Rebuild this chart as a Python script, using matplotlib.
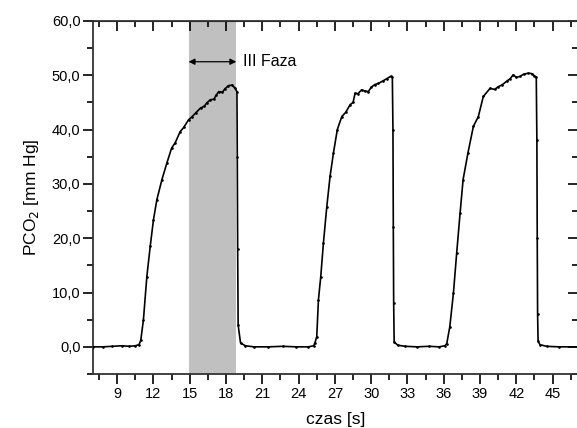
import numpy as np
import matplotlib.pyplot as plt
from matplotlib.ticker import MultipleLocator, FuncFormatter

plt.rcParams['font.family'] = ['Liberation Sans', 'DejaVu Sans']

# CO2 trace (time [s], PCO2 [mm Hg])
czas = [7.0, 7.8, 8.6, 9.4, 10.0, 10.5, 10.8, 10.95, 11.17, 11.45, 11.73, 12.0, 12.28,
        12.7, 13.1, 13.5, 13.8, 14.2, 14.5, 14.9, 15.2, 15.5, 15.9, 16.2, 16.4, 16.7,
        17.0, 17.2, 17.4, 17.7, 17.9, 18.2, 18.5, 18.75, 18.9, 18.93, 18.96, 19.0, 19.2,
        19.6, 20.3, 21.5, 22.7, 23.8, 24.8, 25.25, 25.36, 25.5, 25.64, 25.83, 26.05,
        26.33, 26.6, 26.88, 27.2, 27.57, 27.9, 28.26, 28.5, 28.67, 28.9, 29.2, 29.5,
        29.77, 30.0, 30.3, 30.6, 31.0, 31.3, 31.6, 31.75, 31.8, 31.83, 31.86, 31.9,
        32.2, 32.8, 33.8, 34.8, 35.6, 36.1, 36.25, 36.5, 36.8, 37.07, 37.35, 37.6, 38.0,
        38.45, 38.86, 39.27, 39.83, 40.2, 40.5, 40.8, 41.2, 41.5, 41.75, 42.0, 42.3,
        42.6, 43.0, 43.3, 43.5, 43.65, 43.7, 43.73, 43.76, 43.8, 43.96, 44.5, 45.5, 47.1]
pco2 = [0.0, 0.0, 0.1, 0.2, 0.1, 0.2, 0.4, 1.2, 5.0, 12.9, 18.5, 23.4, 27.1,
        30.8, 33.8, 36.6, 37.6, 39.6, 40.4, 41.8, 42.4, 43.1, 44.0, 44.3, 44.9, 45.5,
        45.6, 46.4, 47.0, 46.9, 47.5, 48.1, 48.2, 47.6, 47.0, 35.0, 18.0, 4.0, 0.7,
        0.2, 0.0, 0.0, 0.1, 0.0, 0.0, 0.2, 0.8, 1.9, 8.7, 12.9, 19.1,
        25.8, 31.4, 35.7, 40.0, 42.4, 43.2, 44.6, 45.0, 46.7, 46.6, 47.3, 47.1,
        47.0, 47.8, 48.3, 48.5, 49.0, 49.4, 49.8, 49.6, 40.0, 22.0, 8.0, 0.9,
        0.3, 0.1, 0.0, 0.1, 0.0, 0.2, 0.6, 3.7, 9.9, 17.3, 24.6, 30.8, 35.7,
        40.6, 42.4, 46.1, 47.6, 47.4, 47.9, 48.2, 48.9, 49.4, 50.1, 49.6, 49.8,
        50.2, 50.4, 50.3, 49.9, 49.6, 38.0, 20.0, 6.0, 1.0, 0.4, 0.1, 0.0, 0.0]

faza_start, faza_end = 14.9, 18.85
faza_y = 52.5

fig = plt.figure(figsize=(5.77, 4.28), dpi=100)
ax = fig.add_axes([93 / 577, 54 / 428, 485 / 577, 353 / 428])

ax.axvspan(faza_start, faza_end, color='#c0c0c0', lw=0, zorder=0)
ax.plot(czas, pco2, color='black', lw=1.2, marker='.', ms=1.8, zorder=3)

ax.annotate('', xy=(faza_start, faza_y), xytext=(faza_end, faza_y),
            arrowprops=dict(arrowstyle='<|-|>', color='black', lw=0.9,
                            mutation_scale=9, shrinkA=0, shrinkB=0))
ax.text(19.4, faza_y, 'III Faza', fontsize=11.5, va='center', ha='left')

ax.set_xlim(7, 47.1)
ax.set_ylim(-5, 60)
ax.xaxis.set_major_locator(MultipleLocator(3))
ax.xaxis.set_minor_locator(MultipleLocator(1.5))
ax.yaxis.set_major_locator(MultipleLocator(10))
ax.yaxis.set_minor_locator(MultipleLocator(5))
ax.yaxis.set_major_formatter(FuncFormatter(lambda v, p: ('%.1f' % v).replace('.', ',')))
ax.xaxis.set_major_formatter(FuncFormatter(lambda v, p: '%d' % v))

ax.tick_params(which='major', direction='out', length=7, width=1.2, labelsize=10.5, pad=2)
ax.tick_params(which='minor', direction='out', length=4, width=1.2)
for sp in ax.spines.values():
    sp.set_linewidth(1.3)
    sp.set_color('#333333')

# mirrored ticks pointing inward on top and right
top = ax.secondary_xaxis('top')
top.xaxis.set_major_locator(MultipleLocator(3))
top.xaxis.set_minor_locator(MultipleLocator(1.5))
top.tick_params(which='major', direction='in', length=7, width=1.2, labeltop=False)
top.tick_params(which='minor', direction='in', length=4, width=1.2)
right = ax.secondary_yaxis('right')
right.yaxis.set_major_locator(MultipleLocator(10))
right.yaxis.set_minor_locator(MultipleLocator(5))
right.tick_params(which='major', direction='in', length=7, width=1.2, labelright=False)
right.tick_params(which='minor', direction='in', length=4, width=1.2)

ax.set_xlabel('czas [s]', fontsize=12.5, labelpad=8.5)
ax.set_ylabel('PCO$_2$ [mm Hg]', fontsize=12.5, labelpad=8)

fig.savefig('out.png', dpi=100)
